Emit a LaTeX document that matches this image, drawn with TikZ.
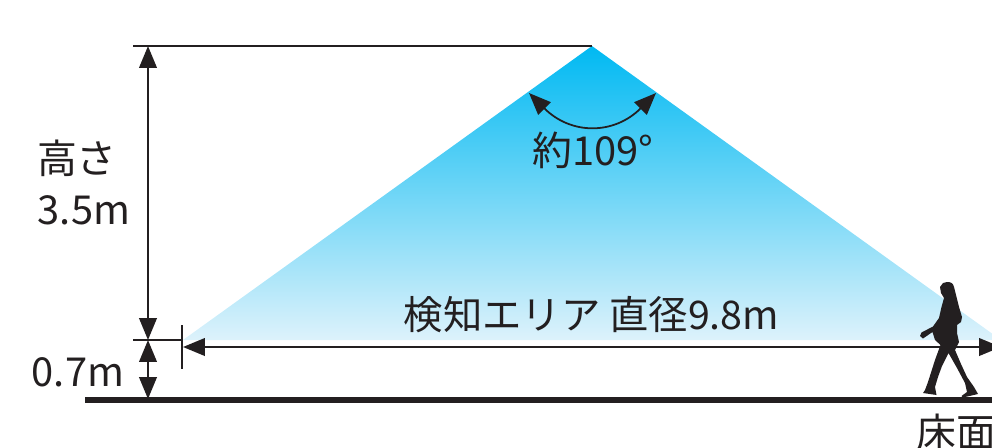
\documentclass[tikz,border=0pt]{standalone}
\usepackage{fontspec}
\setmainfont{Noto Sans CJK JP}
\usetikzlibrary{arrows.meta}
\definecolor{inkdark}{HTML}{231F20}
\definecolor{conetop}{HTML}{00B9F2}
\definecolor{conebottom}{HTML}{DDF2FB}
\tikzset{
  label/.style={text=inkdark,font=\fontsize{22.7pt}{26pt}\selectfont,inner sep=0pt},
  dimline/.style={draw=inkdark,line width=1.25pt,{Triangle[length=12.5pt,width=10pt]}-{Triangle[length=12.5pt,width=10pt]}},
  thinline/.style={draw=inkdark,line width=0.9pt},
}
\begin{document}
\begin{tikzpicture}[x=0.02cm,y=-0.02cm]
\useasboundingbox (0,0) rectangle (992,447);
\clip (0,0) rectangle (992,447);
\shade[top color=conetop,bottom color=conebottom] (592,46) -- (183,340) -- (1001,340) -- cycle;

\coordinate (TopEnd) at (133,46);
\coordinate (Apex) at (592,46);
\coordinate (KneeEnd) at (133,340);
\coordinate (Tick) at (182,340);
\coordinate (TickUp) at (182,325);
\coordinate (TickDown) at (182,369);
\coordinate (HeightTop) at (148,46);
\coordinate (HeightMid) at (148,340);
\coordinate (HeightLow) at (148,399);
\coordinate (WidthLeft) at (183,347);
\coordinate (WidthRight) at (1001,347);
\coordinate (FloorLeft) at (85,400);
\coordinate (FloorRight) at (992,400);
\coordinate (AngleLeft) at (529,93);
\coordinate (AngleRight) at (656,93);

\draw[thinline] (TopEnd) -- (Apex);
\draw[thinline] (KneeEnd) -- (Tick);
\draw[thinline] (TickUp) -- (TickDown);
\draw[dimline] (HeightTop) -- (HeightMid);
\draw[dimline] (HeightMid) -- (HeightLow);
\draw[dimline] (WidthLeft) -- (WidthRight);
\draw[draw=inkdark,line width=2.9pt] (FloorLeft) -- (FloorRight);
\draw[dimline,line width=1pt] (AngleLeft) to[bend right=45,looseness=1.2] (AngleRight);

% walking figure
\fill[inkdark] (947,282) .. controls (951,282) and (953,283) .. (954,287)
  -- (956,295) -- (959,307) -- (962,317) -- (961,322) -- (957,325) -- (957,333)
  -- (959,342) -- (955,350) -- (961,364) -- (967,377) -- (974,387) -- (978,394)
  -- (963,397.5) -- (961.5,396) -- (967,392) -- (965,383) -- (957,368) -- (948.5,353)
  -- (942,366) -- (938,377) -- (935,387) -- (936.5,395) -- (923,393) -- (925,390)
  -- (928,382) -- (935,360) -- (940.5,345) -- (935,340) -- (932.5,332) -- (923,338.5)
  -- (920,336) -- (921.5,332.5) -- (933,326.5) -- (939,318) -- (941.5,307) -- (944,298)
  -- (941,293) -- (940,287) -- (943,283) -- cycle;

\node[label] (HeightA) at (77,158) {高さ};
\node[label] (HeightB) at (84,210) {3.5m};
\node[label] (LowText) at (78,372) {0.7m};
\node[label] (AngleText) at (593,150) {約109°};
\node[label,font=\fontsize{22.4pt}{26pt}\selectfont] (WidthText) at (591.5,315) {検知エリア 直径9.8m};
\node[label,anchor=west] (FloorText) at (916,432) {床面};
\end{tikzpicture}
\end{document}
